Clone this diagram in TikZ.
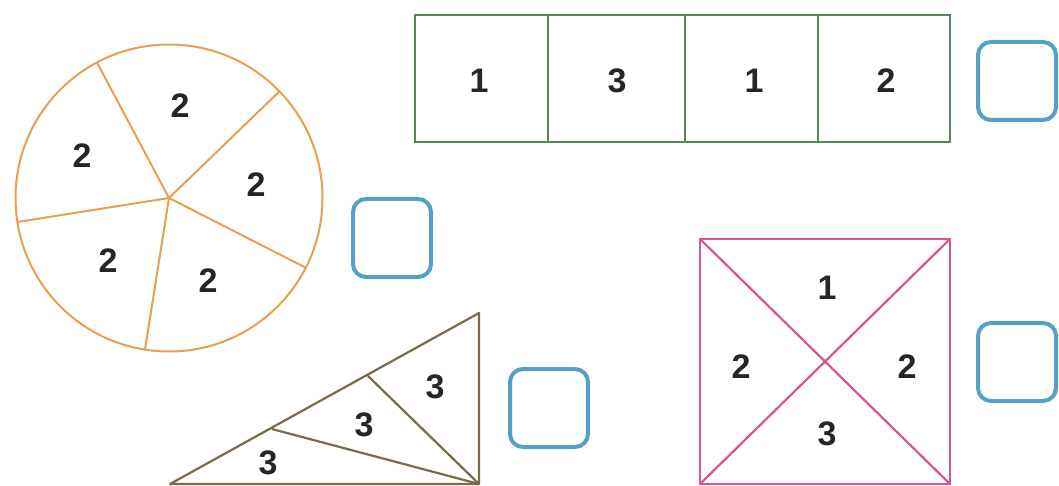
\documentclass[tikz,border=0pt]{standalone}
\usepackage{fontspec}
\setmainfont{Liberation Sans}
\begin{document}
\begin{tikzpicture}[x=1pt,y=-1pt,
  num/.style={font=\fontsize{34}{34}\selectfont\bfseries, text=black!85, inner sep=0pt},
  ansbox/.style={draw=boxblue, line width=4pt, rounded corners=13pt, minimum width=78pt, minimum height=78pt, inner sep=0pt},
  orangeline/.style={draw=pieorange, line width=2pt},
  greenline/.style={draw=rectgreen, line width=2pt},
  brownline/.style={draw=tribrown, line width=2.2pt, line join=round},
  pinkline/.style={draw=sqpink, line width=2.2pt},
]
\definecolor{boxblue}{RGB}{85,160,200}
\definecolor{pieorange}{RGB}{232,160,80}
\definecolor{rectgreen}{RGB}{85,135,90}
\definecolor{tribrown}{RGB}{125,105,75}
\definecolor{sqpink}{RGB}{215,85,145}
\useasboundingbox[fill=white] (0,0) rectangle (1059,486);

% circle
\node[circle, orangeline, minimum size=307pt, inner sep=0pt, outer sep=0pt] (pie) at (169,198) {};
\foreach \a in {44,118,189,261,-27} \draw[orangeline] (pie.center) -- (pie.\a);
\node[num] (p1) at (180,106) {2};
\node[num] (p2) at (82,156) {2};
\node[num] (p3) at (256,185) {2};
\node[num] (p4) at (108,261) {2};
\node[num] (p5) at (208,281) {2};
\node[ansbox] (b1) at (392,238) {};

% bar
\coordinate (r0) at (415,15);
\coordinate (r1) at (950,142);
\draw[greenline] (r0) rectangle (r1);
\coordinate (d1t) at (548,15); \coordinate (d1b) at (548,142);
\coordinate (d2t) at (685,15); \coordinate (d2b) at (685,142);
\coordinate (d3t) at (818,15); \coordinate (d3b) at (818,142);
\draw[greenline] (d1t) -- (d1b) (d2t) -- (d2b) (d3t) -- (d3b);
\node[num] (q1) at (479,81) {1};
\node[num] (q2) at (617,81) {3};
\node[num] (q3) at (754,81) {1};
\node[num] (q4) at (886,81) {2};
\node[ansbox] (b2) at (1017,81) {};

% triangle
\coordinate (tA) at (170,484);
\coordinate (tB) at (479,313);
\coordinate (tC) at (479,484);
\coordinate (tP) at (272,429);
\coordinate (tQ) at (368,376);
\draw[brownline] (tA) -- (tB) -- (tC) -- cycle;
\draw[brownline] (tP) -- (tC) (tQ) -- (tC);
\node[num] (t1) at (268,463) {3};
\node[num] (t2) at (364,425) {3};
\node[num] (t3) at (435,387) {3};
\node[ansbox] (b3) at (549,408) {};

% square
\coordinate (s1) at (700,239);
\coordinate (s2) at (950,239);
\coordinate (s3) at (950,484);
\coordinate (s4) at (700,484);
\draw[pinkline] (s1) rectangle (s3);
\draw[pinkline] (s1) -- (s3) (s2) -- (s4);
\node[num] (u1) at (827,288) {1};
\node[num] (u2) at (741,367) {2};
\node[num] (u3) at (907,367) {2};
\node[num] (u4) at (827,434) {3};
\node[ansbox] (b4) at (1017,362) {};
\end{tikzpicture}
\end{document}
